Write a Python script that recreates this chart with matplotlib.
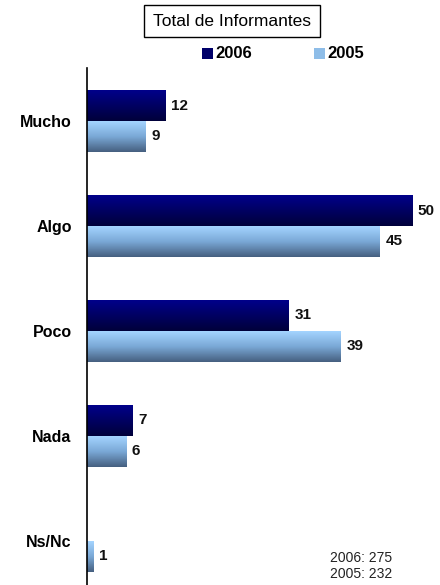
import matplotlib.pyplot as plt
import numpy as np
from matplotlib.colors import LinearSegmentedColormap
from matplotlib.patches import Rectangle

plt.rcParams['font.family'] = ['Liberation Sans', 'DejaVu Sans']

categorias = ['Mucho', 'Algo', 'Poco', 'Nada', 'Ns/Nc']
v2006 = [12, 50, 31, 7, 0]
v2005 = [9, 45, 39, 6, 1]
nota = '2006: 275\n2005: 232'

cmap_2006 = LinearSegmentedColormap.from_list('c06', ['#00008a', '#00003a'])
cmap_2005 = LinearSegmentedColormap.from_list('c05', ['#a4d4ff', '#7aa8d6', '#466080'])

fig = plt.figure(figsize=(4.4, 5.85), dpi=100)
ax = fig.add_axes([87 / 440, 0, 353 / 440, 517 / 585])

y = np.arange(len(categorias))
h = 0.295
grad = np.linspace(0, 1, 64).reshape(-1, 1)


def barras(vals, offset, cmap):
    bars = ax.barh(y + offset, vals, height=h, color='none', edgecolor='none')
    for b, v in zip(bars, vals):
        if v <= 0:
            continue
        x0, y0 = b.get_x(), b.get_y()
        w, hh = b.get_width(), b.get_height()
        im = ax.imshow(grad, cmap=cmap, aspect='auto',
                       extent=[x0, x0 + w, y0 + hh, y0], zorder=2)
        clip = Rectangle((x0, y0), w, hh, transform=ax.transData)
        im.set_clip_path(clip)
        ax.text(v + 0.9, y0 + hh / 2, str(v), va='center', ha='left',
                fontsize=11, fontweight='bold', color='#111111')
    return bars


barras(v2006, -h / 2, cmap_2006)
barras(v2005, h / 2, cmap_2005)

ax.set_xlim(0, 353 / 6.5)
ax.set_ylim(4.42, -0.505)
ax.set_yticks(y)
ax.set_yticklabels(categorias, fontsize=11.5, fontweight='bold')
ax.tick_params(axis='y', length=0, pad=11)
ax.set_xticks([])
for s in ['top', 'right', 'bottom']:
    ax.spines[s].set_visible(False)
ax.spines['left'].set_linewidth(1.2)

# titulo en recuadro
fig.text(232 / 440, 1 - 21 / 585, 'Total de Informantes', ha='center', va='center',
         fontsize=12.5, bbox=dict(boxstyle='square,pad=0.5', fc='white', ec='black', lw=1))

# leyenda
fig.patches.append(Rectangle((202 / 440, 1 - 59 / 585), 11 / 440, 11 / 585,
                             transform=fig.transFigure, fc='#00006a', ec='none'))
fig.text(215 / 440, 1 - 53 / 585, '2006', ha='left', va='center', fontsize=12, fontweight='bold')
fig.patches.append(Rectangle((314 / 440, 1 - 59 / 585), 11 / 440, 11 / 585,
                             transform=fig.transFigure, fc='#8ebde8', ec='none'))
fig.text(327 / 440, 1 - 53 / 585, '2005', ha='left', va='center', fontsize=12, fontweight='bold')

fig.text(330 / 440, 1 - 566 / 585, nota, ha='left', va='center', fontsize=10,
         linespacing=1.1, color='#222222')

fig.savefig('out.png', dpi=100)
